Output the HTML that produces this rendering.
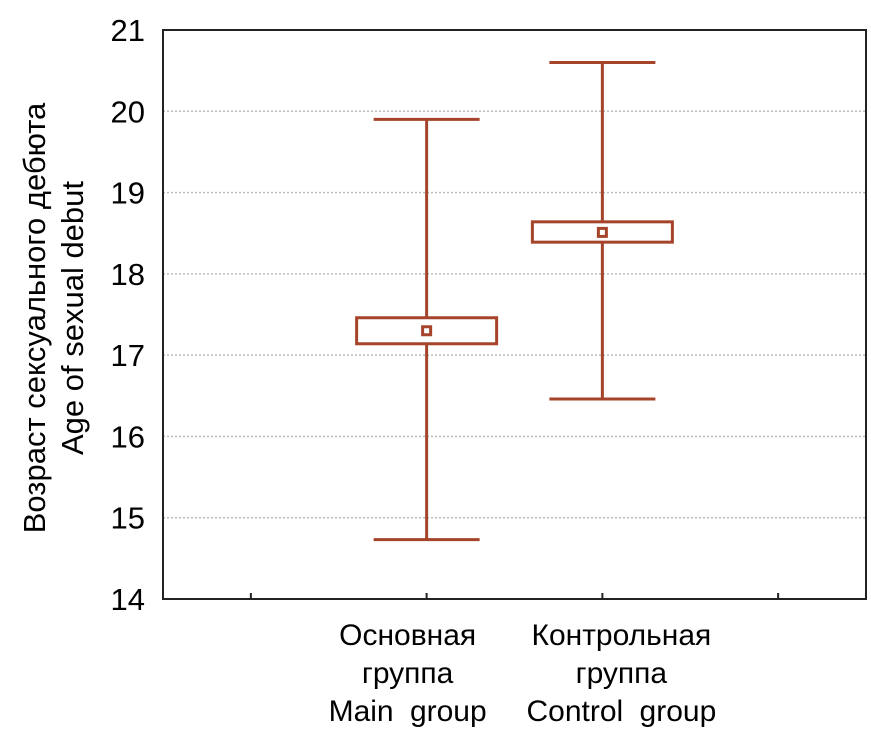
<!DOCTYPE html>
<html><head><meta charset="utf-8"><style>body{margin:0;background:#fff}svg{display:block;font-family:"Liberation Sans","DejaVu Sans",sans-serif}</style></head>
<body>
<svg id="c" width="871" height="736"></svg>
<script>
const categories=[["Основная","группа","Main group"],["Контрольная","группа","Control group"]];
const means=[17.30,18.51];
const boxLow=[17.14,18.39];
const boxHigh=[17.46,18.64];
const whiskLow=[14.73,16.46];
const whiskHigh=[19.90,20.60];
const yTicks=[14,15,16,17,18,19,20,21];
const slots=[0,1,2,3];
const catSlot=[1,2];
const NS="http://www.w3.org/2000/svg";
const svg=document.getElementById('c');
const L=163,R=866,T=30,B=599,col="#a5442a";
const y=v=>B-(v-14)/(21-14)*(B-T);
const x=s=>L+(s+0.5)*(R-L)/4;
const labelShift=[-19,19];
function mk(t,a,p){const e=document.createElementNS(NS,t);for(const k in a)e.setAttribute(k,a[k]);(p||svg).appendChild(e);return e;}
yTicks.forEach(v=>{
 if(v>14&&v<21){const g=mk('line',{x1:L,x2:R,y1:y(v),y2:y(v),stroke:"#bbb","stroke-width":1.5,"stroke-dasharray":"2,2"});
 
 }
 const t=mk('text',{x:L-18,y:y(v)+11,"text-anchor":"end","font-size":31,fill:"#000"});t.textContent=v;
 
 
});
slots.forEach(s=>{const t=mk('line',{x1:x(s),x2:x(s),y1:B,y2:B-6,stroke:"#222","stroke-width":2});
 
 });
const frame=mk('rect',{x:L,y:T,width:R-L,height:B-T,fill:"none",stroke:"#222","stroke-width":2});


categories.forEach((c,i)=>{
 const cx=x(catSlot[i]);
 const g=mk('g',{stroke:col,"stroke-width":3,fill:"none"});
 
 
 mk('line',{x1:cx,x2:cx,y1:y(whiskHigh[i]),y2:y(boxHigh[i])},g);
 mk('line',{x1:cx,x2:cx,y1:y(boxLow[i]),y2:y(whiskLow[i])},g);
 mk('line',{x1:cx-53,x2:cx+53,y1:y(whiskHigh[i]),y2:y(whiskHigh[i])},g);
 mk('line',{x1:cx-53,x2:cx+53,y1:y(whiskLow[i]),y2:y(whiskLow[i])},g);
 mk('rect',{x:cx-70,y:y(boxHigh[i]),width:140,height:y(boxLow[i])-y(boxHigh[i])},g);
 mk('rect',{x:cx-4,y:y(means[i])-4,width:8,height:8},g);
 c.forEach((ln,j)=>{const t=mk('text',{x:cx+labelShift[i],y:645+j*38,"text-anchor":"middle","font-size":30,"word-spacing":8,fill:"#000"});t.textContent=ln;
 
 });
});
["Возраст сексуального дебюта","Age of sexual debut"].forEach((s,j)=>{
 const t=mk('text',{x:0,y:0,"text-anchor":"middle","font-size":31,fill:"#000",transform:`translate(${45+j*38},318) rotate(-90)`});t.textContent=s;
 
 
});
</script>
</body></html>
